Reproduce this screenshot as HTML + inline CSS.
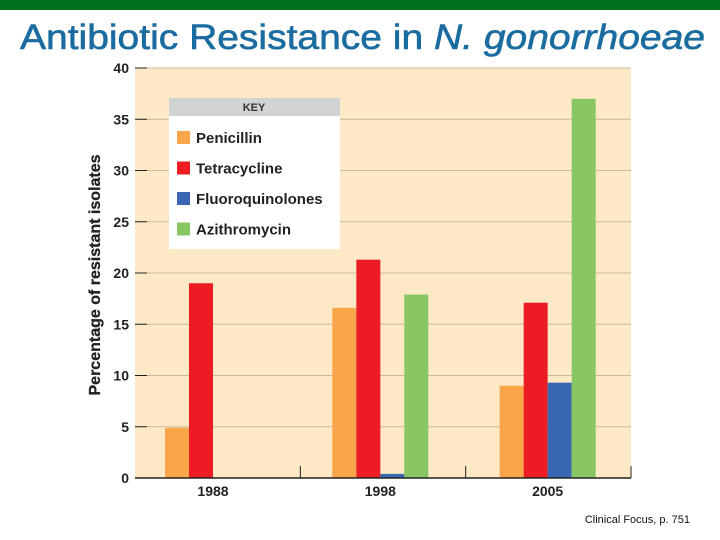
<!DOCTYPE html>
<html><head><meta charset="utf-8"><style>
html,body{margin:0;padding:0;background:#fff;}
svg{display:block;font-family:"Liberation Sans",Arial,sans-serif;}
</style></head><body>
<svg id="c" width="720" height="540" viewBox="0 0 720 540">
<rect x="0" y="0" width="720" height="10" fill="#006f1c"/>
<text x="20" y="49" font-size="35" fill="#1b6ca0" stroke="#1b6ca0" stroke-width="0.6" textLength="685" lengthAdjust="spacingAndGlyphs">Antibiotic Resistance in <tspan font-style="italic">N. gonorrhoeae</tspan></text>
<rect x="135" y="68" width="496" height="410" fill="#fde9c6"/>
<g id="grid"></g>
<g id="bars"></g>
<g id="axes"></g>
<text transform="translate(100,275) rotate(-90)" text-anchor="middle" font-size="16" font-weight="bold" fill="#222" stroke="#222" stroke-width="0.3">Percentage of resistant isolates</text>
<g>
<rect x="169" y="98" width="171" height="151" fill="#fff"/>
<rect x="169" y="98" width="171" height="18" fill="#d2d3d5"/>
<text x="254" y="111" text-anchor="middle" font-size="11" font-weight="bold" fill="#333">KEY</text>
<g id="leg"></g>
</g>
<text x="690" y="523" text-anchor="end" font-size="11" fill="#111">Clinical Focus, p. 751</text>
</svg>
<script>
const years = ["1988","1998","2005"];
const seriesNames = ["Penicillin","Tetracycline","Fluoroquinolones","Azithromycin"];
const penicillin = [4.9, 16.6, 9.0];
const tetracycline = [19.0, 21.3, 17.1];
const fluoroquinolones = [0, 0.4, 9.3];
const azithromycin = [0, 17.9, 37.0];
const yTicks = [0,5,10,15,20,25,30,35,40];
const colors = ["#f9a54a","#ec1c24","#3a67b1","#88c663"];
const series = [penicillin, tetracycline, fluoroquinolones, azithromycin];
const NS="http://www.w3.org/2000/svg";
const y0=478, y1=68, x0=135, x1=631;
function yS(v){return y0-(v/40)*(y0-y1);}
const groupW=(x1-x0)/years.length, barW=24;
function gStart(i){return x0+30+i*(groupW+2);}
function mk(t,a,p){const e=document.createElementNS(NS,t);for(const k in a)e.setAttribute(k,a[k]);p.appendChild(e);return e;}
const grid=document.getElementById('grid'), axes=document.getElementById('axes'), bars=document.getElementById('bars'), leg=document.getElementById('leg');
yTicks.forEach(v=>{
  const y=yS(v);
  if(v>0){const l=mk('line',{x1:x0,x2:x1,y1:y,y2:y,stroke:'#c9b99a','stroke-width':1},grid);
  
  }
  const tk=mk('line',{x1:x0,x2:x0+12,y1:y,y2:y,stroke:'#222','stroke-width':1},axes);
  
  
  const t=mk('text',{x:x0-6,y:y+5,'text-anchor':'end','font-size':14,'font-weight':'bold',fill:'#222'},axes);
  t.textContent=v;
  
  
});
series.forEach((s,si)=>{
  s.forEach((v,gi)=>{
    if(v<=0)return;
    const x=gStart(gi)+si*barW;
    const r=mk('rect',{x:x,y:yS(v),width:barW,height:y0-yS(v),fill:colors[si]},bars);
    
    
  });
});
const ax=mk('line',{x1:x0,x2:x1,y1:y0,y2:y0,stroke:'#222','stroke-width':1.5},axes);


years.forEach((yr,i)=>{
  const t=mk('text',{x:gStart(i)+2*barW,y:y0+18,'text-anchor':'middle','font-size':14,'font-weight':'bold',fill:'#222'},axes);
  t.textContent=yr;
  
  
  const xd=x0+(i+1)*groupW;
  const d=mk('line',{x1:xd,x2:xd,y1:y0-12,y2:y0,stroke:'#222','stroke-width':1},axes);
  
  
});
seriesNames.forEach((n,i)=>{
  const y=131+i*30.5;
  const r=mk('rect',{x:177,y:y,width:13,height:13,fill:colors[i]},leg);
  
  
  const t=mk('text',{x:196,y:y+12,'font-size':15,'font-weight':'bold',fill:'#222'},leg);
  t.textContent=n;
  
  
});
</script>
</body></html>
